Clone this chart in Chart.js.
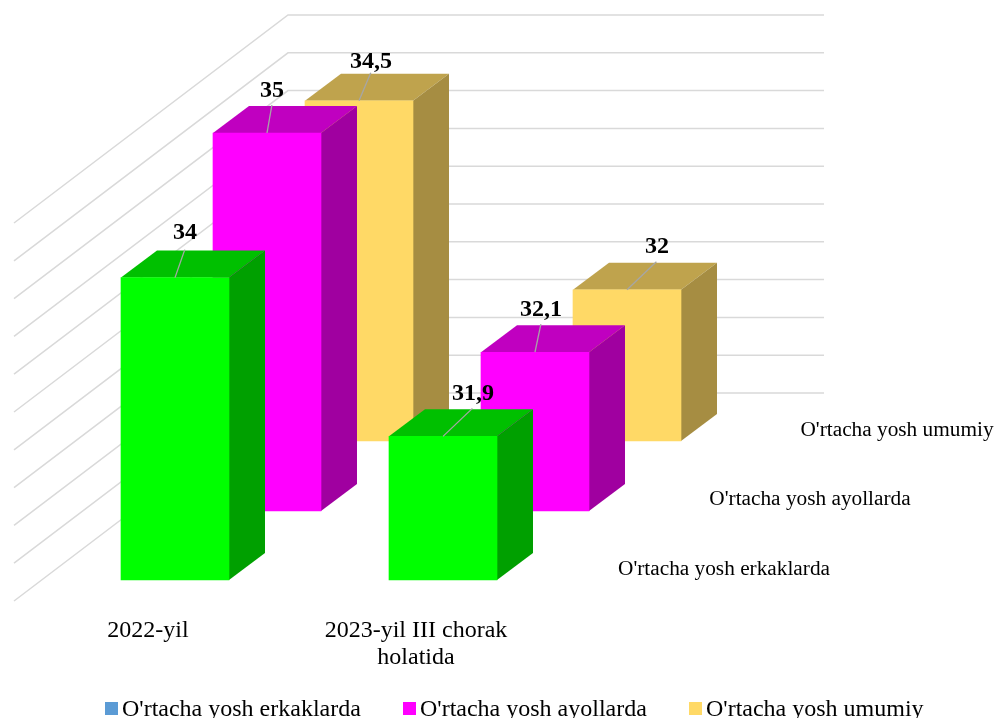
<!DOCTYPE html>
<html>
<head>
<meta charset="utf-8">
<style>
  html, body { margin: 0; padding: 0; background: #fff; overflow: hidden; }
  #wrap { width: 995px; height: 718px; }
</style>
<script src="https://cdn.jsdelivr.net/npm/chart.js@4.4.0/dist/chart.umd.min.js"></script>
</head>
<body>
<div id="wrap"><canvas id="chart" width="995" height="718"></canvas></div>
<script>
const categories = ['2022-yil', ['2023-yil III chorak', 'holatida']];
const seriesNames = ["O'rtacha yosh erkaklarda", "O'rtacha yosh ayollarda", "O'rtacha yosh umumiy"];
const erkaklar = [34, 31.9];
const ayollar = [35, 32.1];
const umumiy = [34.5, 32];
const yMin = 30;
const yMax = 35;
const yStep = 0.5;

const serif = '"Liberation Serif", "Times New Roman", serif';

// front, top and side colours of each row, the legend keeps the original blue swatch
const frontColors = ['#00ff00', '#ff00ff', '#ffd966'];
const topColors = ['#00c000', '#c000c0', '#bfa34d'];
const sideColors = ['#00a000', '#a000a0', '#a68d42'];
const legendColors = ['#5b9bd5', '#ff00ff', '#ffd966'];

// pseudo 3D: every row is moved away from the back wall scale
const rowShift = [{ x: 27, y: 187 }, { x: 119, y: 118 }, { x: 211, y: 48 }];
const barDepth = { x: 36, y: -27 };
const wallDepth = { x: 274, y: -208 };

// depth axis names and legend placement
const depthLabelPos = [{ x: 724, y: 569 }, { x: 810, y: 499 }, { x: 897, y: 430 }];
const legendPos = [105, 403, 689];

// label centre relative to the middle of the bar's top front edge
const labelOffsets = [
    [{ x: 10, y: -45 }, { x: 30, y: -43 }],
    [{ x: 5, y: -42 }, { x: 6, y: -42 }],
    [{ x: 12, y: -39 }, { x: 30, y: -43 }]
];

function poly(ctx, pts, color) {
    ctx.beginPath();
    pts.forEach((p, i) => i ? ctx.lineTo(p[0], p[1]) : ctx.moveTo(p[0], p[1]));
    ctx.closePath();
    ctx.fillStyle = color;
    ctx.fill();
}

const pseudo3d = {
    id: 'pseudo3d',
    afterDatasetsUpdate(chart) {
        chart.data.datasets.forEach((ds, i) => {
            chart.getDatasetMeta(i).data.forEach(el => {
                el.x += rowShift[i].x;
                el.y += rowShift[i].y;
                el.base += rowShift[i].y;
            });
        });
    },
    beforeDatasetsDraw(chart) {
        const { ctx, scales: { x, y } } = chart;
        const left = x.left;
        const right = x.right;
        ctx.save();
        ctx.strokeStyle = '#d9d9d9';
        ctx.lineWidth = 1.5;
        y.ticks.forEach(t => {
            const py = y.getPixelForValue(t.value);
            ctx.beginPath();
            ctx.moveTo(left, py - wallDepth.y);
            ctx.lineTo(left + wallDepth.x, py);
            ctx.lineTo(right + wallDepth.x, py);
            ctx.stroke();
        });
        ctx.restore();
    },
    beforeDatasetDraw(chart, args) {
        const { ctx } = chart;
        const i = args.index;
        chart.getDatasetMeta(i).data.forEach(el => {
            const l = el.x - el.width / 2;
            const r = el.x + el.width / 2;
            const d = barDepth;
            poly(ctx, [[l, el.y], [l + d.x, el.y + d.y], [r + d.x, el.y + d.y], [r, el.y]], topColors[i]);
            poly(ctx, [[r, el.y], [r + d.x, el.y + d.y], [r + d.x, el.base + d.y], [r, el.base]], sideColors[i]);
        });
    },
    afterDatasetsDraw(chart) {
        const { ctx } = chart;
        ctx.save();
        chart.data.datasets.forEach((ds, i) => {
            chart.getDatasetMeta(i).data.forEach((el, j) => {
                const off = labelOffsets[i][j];
                const tx = el.x + off.x;
                const ty = el.y + off.y;
                // leader line from the label down to the top front edge
                ctx.beginPath();
                ctx.moveTo(el.x + off.x * 0.98, el.y + barDepth.y - 1);
                ctx.lineTo(el.x, el.y);
                ctx.strokeStyle = '#a6a6a6';
                ctx.lineWidth = 1.3;
                ctx.stroke();
                ctx.fillStyle = '#000';
                ctx.font = 'bold 24px ' + serif;
                ctx.textAlign = 'center';
                ctx.textBaseline = 'middle';
                ctx.fillText(String(ds.data[j]).replace('.', ','), tx, ty);
            });
        });
        // depth axis names
        ctx.fillStyle = '#000';
        ctx.font = '21.3px ' + serif;
        ctx.textAlign = 'center';
        ctx.textBaseline = 'middle';
        seriesNames.forEach((n, i) => ctx.fillText(n, depthLabelPos[i].x, depthLabelPos[i].y));
        // legend
        ctx.font = '24px ' + serif;
        ctx.textAlign = 'left';
        ctx.textBaseline = 'alphabetic';
        seriesNames.forEach((n, i) => {
            ctx.fillStyle = legendColors[i];
            ctx.fillRect(legendPos[i], 702, 13, 13);
            ctx.fillStyle = '#000';
            ctx.fillText(n, legendPos[i] + 17, 716);
        });
        ctx.restore();
    }
};

new Chart(document.getElementById('chart'), {
    type: 'bar',
    plugins: [pseudo3d],
    data: {
        labels: categories,
        datasets: [erkaklar, ayollar, umumiy].map((values, i) => ({
            label: seriesNames[i],
            data: values,
            base: yMin,
            backgroundColor: frontColors[i],
            barThickness: 108,
            grouped: false,
            clip: false
        }))
    },
    options: {
        responsive: false,
        animation: false,
        layout: { padding: { left: 14, right: 445, top: 15, bottom: 0 } },
        plugins: { legend: { display: false }, tooltip: { enabled: false } },
        scales: {
            x: {
                grid: { display: false },
                border: { display: false },
                afterFit(scale) {
                    // the big tick padding must not push the plot area inwards
                    scale.height = 325;
                    scale.paddingLeft = 0;
                    scale.paddingRight = 0;
                },
                ticks: {
                    padding: 216,
                    maxRotation: 0,
                    autoSkip: false,
                    color: '#000',
                    font: { family: serif, size: 24, lineHeight: 1.13 }
                }
            },
            y: {
                display: false,
                min: yMin,
                max: yMax,
                ticks: { stepSize: yStep }
            }
        }
    }
});
</script>
</body>
</html>
